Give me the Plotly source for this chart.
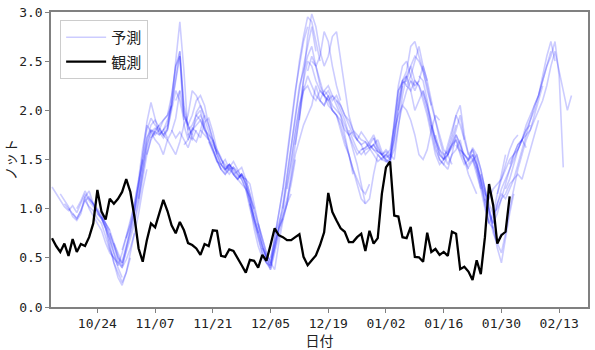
import pandas as pd
import plotly.graph_objects as go

# ---------------- data ----------------
obs_start = "2022-10-13"
observed = [0.70, 0.62, 0.56, 0.645, 0.52, 0.69, 0.56, 0.64, 0.62, 0.71,
            0.85, 1.19, 0.97, 0.89, 1.10, 1.05, 1.10, 1.17, 1.30, 1.17,
            0.915, 0.595, 0.46, 0.68, 0.85, 0.81, 0.95, 1.09, 0.976, 0.83,
            0.75, 0.865, 0.78, 0.65, 0.63, 0.595, 0.53, 0.64, 0.62, 0.78,
            0.775, 0.52, 0.51, 0.585, 0.57, 0.49, 0.425, 0.35, 0.48, 0.47,
            0.40, 0.53, 0.47, 0.63, 0.80, 0.73, 0.71, 0.68, 0.68, 0.71,
            0.74, 0.51, 0.425, 0.475, 0.525, 0.63, 0.76, 1.16, 0.965, 0.88,
            0.80, 0.765, 0.66, 0.66, 0.71, 0.745, 0.57, 0.775, 0.645, 0.70,
            1.15, 1.42, 1.48, 0.93, 0.92, 0.71, 0.70, 0.815, 0.51, 0.505,
            0.46, 0.755, 0.56, 0.59, 0.53, 0.56, 0.52, 0.765, 0.745, 0.385,
            0.41, 0.36, 0.275, 0.475, 0.335, 0.71, 1.25, 1.035, 0.645, 0.73,
            0.765, 1.125]

# forecast issue offsets (days after obs_start) and the forecast values
forecast_offsets = [0, 2, 3, 5, 6, 8, 9, 11, 12, 14, 15, 17, 18, 20, 21, 23,
                    24, 26, 27, 29, 30, 32, 33, 35, 36, 38, 39, 41, 42, 44,
                    45, 47, 48, 50, 51, 53, 54, 56, 57, 59, 60, 62, 63, 65,
                    66, 68, 69, 71, 72, 74, 75, 77, 78, 80, 81, 83, 84, 86,
                    87, 89, 90, 92, 93, 95, 96, 98, 99, 101, 102, 104, 105,
                    107, 108, 110, 111]
forecast_values = [
    [1.22, 1.15, 1.08, 1.02, 0.98, 1.03, 0.96, 1.05, 1.15, 1.08, 1.02, 0.98, 0.92, 0.85, 0.78],
    [1.15, 1.08, 1.02, 0.92, 0.88, 0.95, 1.12, 1.00, 0.92, 0.85, 0.78, 0.65, 0.55, 0.50, 0.45],
    [1.05, 1.00, 0.95, 0.90, 0.98, 1.08, 1.12, 1.05, 0.98, 0.90, 0.80, 0.70, 0.55, 0.40, 0.30],
    [0.95, 0.90, 0.98, 1.12, 1.18, 1.05, 0.98, 0.92, 0.80, 0.60, 0.45, 0.35, 0.25, 0.35, 0.50],
    [1.00, 1.08, 1.18, 1.10, 1.05, 1.00, 0.95, 0.85, 0.70, 0.55, 0.45, 0.40, 0.48, 0.60, 0.75],
    [1.08, 1.02, 0.98, 0.90, 0.85, 0.72, 0.58, 0.50, 0.42, 0.55, 0.72, 0.88, 1.05, 1.28, 1.50],
    [1.10, 1.05, 0.95, 0.90, 0.80, 0.65, 0.45, 0.30, 0.22, 0.35, 0.55, 0.75, 0.95, 1.20, 1.40],
    [0.95, 0.90, 0.82, 0.75, 0.62, 0.48, 0.40, 0.58, 0.78, 0.95, 1.15, 1.45, 1.72, 1.80, 1.78],
    [0.92, 0.85, 0.78, 0.65, 0.52, 0.42, 0.55, 0.70, 0.85, 1.05, 1.30, 1.55, 1.70, 1.78, 1.85],
    [0.75, 0.62, 0.50, 0.45, 0.62, 0.80, 1.00, 1.25, 1.55, 1.88, 2.08, 1.90, 1.75, 1.80, 1.72],
    [0.65, 0.55, 0.45, 0.60, 0.75, 0.90, 1.10, 1.40, 1.65, 1.80, 1.75, 1.80, 1.90, 1.95, 2.05],
    [0.58, 0.72, 0.85, 1.05, 1.30, 1.62, 1.85, 1.78, 1.70, 1.65, 1.55, 1.70, 1.78, 1.92, 2.20],
    [0.70, 0.82, 0.98, 1.20, 1.45, 1.70, 1.85, 1.90, 1.82, 1.75, 1.80, 2.00, 2.20, 2.10, 1.90],
    [0.98, 1.25, 1.50, 1.80, 1.92, 1.85, 1.80, 1.75, 1.82, 2.15, 2.45, 2.55, 1.95, 1.85, 1.75],
    [1.10, 1.35, 1.62, 1.78, 1.82, 1.78, 1.72, 1.80, 2.05, 2.50, 2.90, 2.40, 1.75, 1.70, 1.80],
    [1.55, 1.72, 1.78, 1.75, 1.80, 1.90, 2.05, 2.35, 2.60, 2.05, 1.85, 1.72, 1.68, 1.80, 1.95],
    [1.72, 1.80, 1.85, 1.90, 1.95, 2.15, 2.45, 2.60, 2.00, 1.80, 1.85, 1.95, 2.00, 1.80, 1.70],
    [1.82, 1.75, 1.70, 1.62, 1.55, 1.68, 1.85, 1.95, 2.20, 2.15, 2.05, 1.95, 1.85, 1.70, 1.55],
    [1.80, 1.85, 2.05, 2.30, 2.55, 1.85, 1.70, 1.80, 1.90, 1.95, 1.85, 1.70, 1.60, 1.50, 1.40],
    [1.80, 1.72, 1.78, 1.70, 1.62, 1.75, 1.98, 2.05, 1.92, 1.78, 1.65, 1.58, 1.50, 1.45, 1.38],
    [2.10, 2.20, 1.95, 1.85, 1.95, 2.10, 2.15, 2.05, 1.85, 1.70, 1.55, 1.45, 1.40, 1.45, 1.40],
    [1.65, 1.70, 1.82, 1.78, 1.72, 1.88, 1.92, 1.78, 1.60, 1.52, 1.40, 1.35, 1.42, 1.38, 1.32],
    [1.75, 1.80, 1.85, 1.90, 1.80, 1.75, 1.70, 1.55, 1.45, 1.38, 1.45, 1.35, 1.30, 1.25, 1.20],
    [1.95, 1.90, 1.82, 1.72, 1.62, 1.48, 1.45, 1.50, 1.40, 1.35, 1.38, 1.42, 1.30, 1.15, 1.00],
    [1.80, 1.75, 1.70, 1.60, 1.50, 1.40, 1.35, 1.40, 1.42, 1.35, 1.30, 1.20, 1.05, 0.90, 0.75],
    [1.68, 1.58, 1.48, 1.40, 1.35, 1.42, 1.48, 1.40, 1.32, 1.30, 1.25, 1.05, 0.85, 0.65, 0.50],
    [1.70, 1.60, 1.50, 1.42, 1.45, 1.40, 1.35, 1.30, 1.20, 1.00, 0.85, 0.70, 0.55, 0.45, 0.40],
    [1.45, 1.40, 1.42, 1.35, 1.30, 1.35, 1.25, 1.10, 0.88, 0.70, 0.55, 0.45, 0.38, 0.55, 0.72],
    [1.40, 1.45, 1.38, 1.32, 1.35, 1.25, 1.10, 0.90, 0.75, 0.60, 0.50, 0.42, 0.65, 0.80, 0.90],
    [1.35, 1.30, 1.35, 1.25, 1.05, 0.80, 0.62, 0.50, 0.45, 0.42, 0.60, 0.75, 0.90, 1.05, 1.15],
    [1.30, 1.35, 1.30, 1.15, 0.95, 0.80, 0.62, 0.50, 0.38, 0.60, 0.80, 0.92, 1.05, 1.25, 1.50],
    [1.20, 1.12, 1.00, 0.85, 0.70, 0.55, 0.45, 0.38, 0.65, 0.88, 1.05, 1.35, 1.70, 2.00, 2.25],
    [1.05, 0.90, 0.75, 0.62, 0.52, 0.48, 0.70, 0.95, 1.20, 1.55, 1.90, 2.20, 2.45, 2.70, 2.85],
    [0.85, 0.70, 0.55, 0.45, 0.60, 0.82, 1.05, 1.35, 1.65, 1.95, 2.20, 2.45, 2.65, 2.85, 2.60],
    [0.60, 0.50, 0.42, 0.72, 0.95, 1.20, 1.50, 1.85, 2.20, 2.50, 2.75, 2.95, 2.90, 2.70, 2.50],
    [0.50, 0.65, 0.80, 0.95, 1.10, 1.30, 1.55, 1.70, 1.85, 1.95, 2.05, 2.25, 2.10, 2.05, 2.15],
    [0.75, 0.85, 1.00, 1.25, 1.50, 1.80, 2.05, 2.20, 2.25, 2.15, 2.10, 2.20, 2.15, 2.10, 2.15],
    [1.00, 1.30, 1.60, 1.95, 2.25, 2.40, 2.55, 2.65, 2.45, 2.55, 2.80, 2.70, 2.45, 2.25, 2.10],
    [1.20, 1.45, 1.75, 2.05, 2.30, 2.50, 2.45, 2.30, 2.20, 2.15, 2.20, 2.10, 2.15, 2.05, 1.95],
    [1.65, 1.95, 2.20, 2.35, 2.25, 2.15, 2.10, 2.20, 2.25, 2.15, 2.05, 1.95, 1.75, 1.55, 1.35],
    [1.90, 2.35, 2.75, 2.98, 2.85, 2.60, 2.45, 2.55, 2.75, 2.80, 2.50, 2.20, 1.95, 1.80, 1.70],
    [2.40, 2.55, 2.45, 2.25, 2.15, 2.10, 2.00, 1.95, 1.85, 1.70, 1.55, 1.40, 1.25, 1.10, 1.05],
    [2.50, 2.45, 2.30, 2.15, 2.05, 2.00, 1.95, 1.80, 1.65, 1.55, 1.40, 1.30, 1.20, 1.15, 1.25],
    [2.10, 2.05, 2.15, 2.00, 1.95, 1.90, 1.80, 1.75, 1.78, 1.70, 1.65, 1.55, 1.60, 1.65, 1.58],
    [2.20, 2.15, 2.05, 2.00, 1.95, 1.85, 1.75, 1.65, 1.55, 1.60, 1.62, 1.65, 1.72, 1.60, 1.55],
    [2.15, 2.10, 2.05, 1.95, 1.90, 1.80, 1.75, 1.70, 1.68, 1.62, 1.65, 1.58, 1.55, 1.50, 1.45],
    [2.10, 2.00, 1.90, 1.75, 1.60, 1.45, 1.25, 1.05, 1.10, 1.35, 1.55, 1.50, 1.55, 1.60, 1.85],
    [1.95, 1.85, 1.75, 1.70, 1.78, 1.72, 1.65, 1.60, 1.55, 1.50, 1.48, 1.45, 1.70, 2.00, 2.25],
    [1.80, 1.70, 1.60, 1.55, 1.60, 1.62, 1.65, 1.70, 1.58, 1.52, 1.55, 1.50, 1.80, 2.15, 2.35],
    [1.70, 1.65, 1.68, 1.62, 1.55, 1.48, 1.52, 1.55, 1.50, 1.60, 1.85, 2.05, 2.20, 2.30, 2.25],
    [1.60, 1.62, 1.68, 1.75, 1.65, 1.55, 1.50, 1.48, 1.90, 2.25, 2.45, 2.50, 2.35, 2.25, 2.30],
    [1.65, 1.60, 1.58, 1.55, 1.60, 1.55, 1.85, 2.20, 2.30, 2.25, 2.35, 2.50, 2.65, 2.45, 2.30],
    [1.72, 1.62, 1.55, 1.58, 1.52, 1.70, 2.05, 2.30, 2.40, 2.65, 2.70, 2.55, 2.40, 2.20, 2.05],
    [1.55, 1.48, 1.50, 1.80, 1.95, 2.05, 2.00, 1.90, 1.75, 1.55, 1.50, 1.60, 1.80, 1.95, 1.90],
    [1.55, 1.50, 1.75, 2.10, 2.30, 2.35, 2.20, 2.00, 2.10, 2.20, 2.05, 1.85, 1.70, 1.55, 1.50],
    [1.85, 2.20, 2.28, 2.30, 2.45, 2.55, 2.50, 2.40, 2.25, 2.05, 1.90, 1.75, 1.60, 1.55, 1.45],
    [2.00, 2.25, 2.35, 2.45, 2.30, 2.25, 2.15, 2.00, 1.80, 1.60, 1.50, 1.45, 1.55, 1.70, 1.85],
    [2.25, 2.20, 2.30, 2.25, 2.10, 1.95, 1.75, 1.55, 1.45, 1.50, 1.65, 1.80, 1.95, 1.85, 1.70],
    [2.30, 2.20, 2.30, 2.45, 2.30, 2.10, 1.90, 1.70, 1.55, 1.45, 1.55, 1.60, 1.70, 1.50, 1.40],
    [2.35, 2.30, 2.10, 1.85, 1.65, 1.50, 1.45, 1.40, 1.55, 1.75, 1.65, 1.50, 1.35, 1.25, 1.15],
    [2.20, 2.05, 1.90, 1.70, 1.55, 1.50, 1.60, 1.75, 1.95, 2.05, 1.75, 1.55, 1.50, 1.35, 1.20],
    [1.85, 1.70, 1.60, 1.50, 1.55, 1.65, 1.80, 1.95, 1.70, 1.55, 1.60, 1.50, 1.30, 1.05, 0.85],
    [1.75, 1.60, 1.55, 1.58, 1.65, 1.70, 1.60, 1.55, 1.50, 1.55, 1.40, 1.20, 1.00, 0.85, 0.80],
    [1.50, 1.55, 1.62, 1.70, 1.55, 1.45, 1.50, 1.62, 1.55, 1.40, 1.20, 0.95, 0.75, 0.65, 0.75],
    [1.55, 1.65, 1.75, 1.65, 1.55, 1.50, 1.60, 1.45, 1.25, 1.05, 0.85, 0.95, 1.15, 1.35, 1.55],
    [1.65, 1.58, 1.50, 1.42, 1.48, 1.55, 1.40, 1.20, 1.00, 0.80, 0.60, 0.45, 0.70, 0.95, 1.15],
    [1.60, 1.55, 1.48, 1.55, 1.45, 1.30, 1.15, 1.10, 1.20, 1.25, 1.30, 1.45, 1.60, 1.70, 1.75],
    [1.45, 1.50, 1.40, 1.25, 1.10, 0.95, 0.85, 0.95, 1.10, 1.25, 1.40, 1.55, 1.65, 1.70, 1.62],
    [1.55, 1.45, 1.30, 1.15, 1.00, 0.85, 1.05, 1.20, 1.30, 1.40, 1.50, 1.60, 1.70, 1.80, 1.85],
    [1.35, 1.20, 1.05, 0.95, 1.00, 1.10, 1.15, 1.25, 1.30, 1.35, 1.30, 1.45, 1.60, 1.75, 1.90],
    [1.10, 1.00, 0.80, 0.65, 0.55, 0.75, 1.00, 1.20, 1.40, 1.55, 1.70, 1.80, 1.95, 2.10, 2.25],
    [0.90, 1.05, 1.15, 1.10, 1.20, 1.30, 1.45, 1.60, 1.75, 1.90, 2.05, 2.15, 2.30, 2.45, 2.60],
    [1.15, 1.30, 1.40, 1.50, 1.55, 1.65, 1.70, 1.80, 1.90, 2.00, 2.15, 2.35, 2.55, 2.70, 2.50],
    [1.20, 1.30, 1.45, 1.60, 1.70, 1.85, 1.95, 2.05, 2.15, 2.30, 2.45, 2.55, 2.70, 2.35, 1.42],
    [1.45, 1.55, 1.60, 1.70, 1.75, 1.80, 1.90, 2.00, 2.10, 2.25, 2.45, 2.60, 2.40, 2.20, 2.00, 2.15],
]

tick_dates = ["2022-10-24", "2022-11-07", "2022-11-21", "2022-12-05", "2022-12-19",
              "2023-01-02", "2023-01-16", "2023-01-30", "2023-02-13"]
tick_labels = ["10/24", "11/07", "11/21", "12/05", "12/19", "01/02", "01/16", "01/30", "02/13"]
y_ticks = [0.0, 0.5, 1.0, 1.5, 2.0, 2.5, 3.0]

# ---------------- figure ----------------
base = pd.Timestamp(obs_start)
fig = go.Figure()

for k, (off, vals) in enumerate(zip(forecast_offsets, forecast_values)):
    xs = pd.date_range(base + pd.Timedelta(days=off), periods=len(vals), freq="D")
    fig.add_trace(go.Scatter(
        x=xs, y=vals, mode="lines", name="予測",
        line=dict(color="rgba(0,0,255,0.2)", width=1.6),
        showlegend=(k == 0), legendgroup="fc", hoverinfo="skip",
    ))

obs_x = pd.date_range(base, periods=len(observed), freq="D")
fig.add_trace(go.Scatter(
    x=obs_x, y=observed, mode="lines", name="観測",
    line=dict(color="black", width=2.3),
))

tick_font = dict(family="DejaVu Sans Mono, Noto Sans CJK JP", size=13, color="#222")
fig.update_layout(
    width=595, height=350,
    margin=dict(l=48, r=5, t=11, b=43),
    paper_bgcolor="white", plot_bgcolor="white",
    font=dict(family="Noto Sans CJK JP", size=13, color="#222"),
    legend=dict(
        x=0.017, y=0.973, xanchor="left", yanchor="top",
        bgcolor="rgba(255,255,255,0.9)", bordercolor="#cccccc", borderwidth=1,
        font=dict(family="Noto Sans CJK JP", size=15, color="#222"),
        itemwidth=40, tracegroupgap=2,
    ),
    xaxis=dict(
        range=["2022-10-12 18:00", "2023-02-20 00:00"],
        tickvals=tick_dates, ticktext=tick_labels,
        showgrid=False, zeroline=False,
        showline=True, mirror=True, linecolor="#808080", linewidth=1.5,
        ticks="outside", ticklen=4, tickcolor="#808080",
        tickfont=tick_font,
        title=dict(text="日付", font=dict(family="Noto Sans CJK JP", size=14), standoff=4),
    ),
    yaxis=dict(
        range=[0, 3.0],
        tickvals=y_ticks, tickformat=".1f",
        showgrid=False, zeroline=False,
        showline=True, mirror=True, linecolor="#808080", linewidth=1.5,
        ticks="outside", ticklen=4, tickcolor="#808080",
        tickfont=tick_font,
        title=dict(text="ノット", font=dict(family="Noto Sans CJK JP", size=14), standoff=4),
    ),
)

fig.write_html("out.html", config={"displayModeBar": False})
